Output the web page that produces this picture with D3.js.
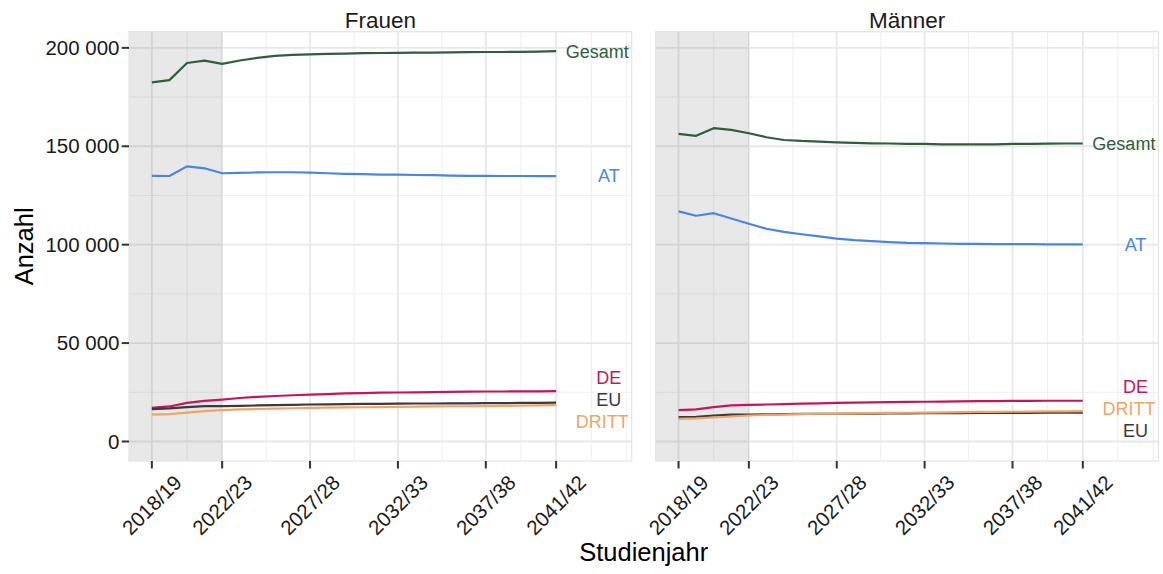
<!DOCTYPE html>
<html>
<head>
<meta charset="utf-8">
<script src="https://cdn.jsdelivr.net/npm/d3@7"></script>
<style>
  body { margin: 0; background: #fff; }
  text { font-family: "Liberation Sans", Arial, Helvetica, sans-serif; }
</style>
</head>
<body>
<div id="chart"></div>
<script>
// years (first year of each Studienjahr)
const years = d3.range(2018, 2042);
const tickYears = [2018, 2022, 2027, 2032, 2037, 2041];
const minorYears = [2020, 2024.5, 2029.5, 2034.5, 2039, 2043, 2045];
const yTicks = [0, 50000, 100000, 150000, 200000];
const yMinor = [25000, 75000, 125000, 175000];
const panels = ["Frauen", "Männer"];
const seriesNames = ["Gesamt", "AT", "DE", "EU", "DRITT"];

// values in thousands
const gesamtF = [182.5, 183.6, 192.3, 193.5, 191.9, 193.6, 194.9, 195.9, 196.4, 196.7, 196.9, 197.1, 197.3, 197.4, 197.5, 197.6, 197.6, 197.7, 197.8, 197.9, 197.9, 198.0, 198.1, 198.3];
const atF = [135.0, 134.9, 139.8, 138.8, 136.3, 136.5, 136.7, 136.8, 136.8, 136.6, 136.3, 136.0, 135.8, 135.6, 135.6, 135.4, 135.3, 135.1, 135.0, 135.0, 134.9, 134.9, 134.8, 134.8];
const deF = [17.1, 17.8, 19.6, 20.6, 21.3, 22.1, 22.7, 23.1, 23.5, 23.8, 24.1, 24.4, 24.6, 24.8, 24.9, 25.0, 25.1, 25.2, 25.3, 25.4, 25.4, 25.5, 25.5, 25.6];
const euF = [16.4, 16.8, 17.5, 18.0, 18.0, 18.1, 18.3, 18.5, 18.6, 18.8, 18.9, 19.0, 19.1, 19.1, 19.2, 19.3, 19.3, 19.4, 19.4, 19.5, 19.5, 19.6, 19.6, 19.7];
const drittF = [13.6, 13.9, 14.7, 15.4, 15.9, 16.3, 16.5, 16.7, 16.9, 17.1, 17.2, 17.3, 17.4, 17.5, 17.6, 17.7, 17.8, 17.9, 17.9, 18.0, 18.1, 18.2, 18.3, 18.5];

const gesamtM = [156.3, 155.3, 159.2, 158.3, 156.6, 154.6, 153.2, 152.7, 152.4, 152.0, 151.7, 151.5, 151.4, 151.2, 151.2, 151.0, 151.0, 151.0, 151.0, 151.2, 151.2, 151.3, 151.4, 151.4];
const atM = [116.9, 114.7, 116.0, 113.3, 110.6, 108.1, 106.5, 105.3, 104.2, 103.1, 102.3, 101.8, 101.3, 100.9, 100.8, 100.6, 100.4, 100.4, 100.3, 100.3, 100.3, 100.2, 100.2, 100.2];
const deM = [15.9, 16.3, 17.5, 18.3, 18.6, 18.8, 19.0, 19.2, 19.4, 19.6, 19.7, 19.9, 20.0, 20.1, 20.2, 20.3, 20.4, 20.5, 20.5, 20.6, 20.6, 20.7, 20.7, 20.7];
const euM = [12.4, 12.5, 13.2, 13.6, 13.7, 13.8, 13.9, 14.0, 14.1, 14.1, 14.2, 14.2, 14.3, 14.3, 14.4, 14.4, 14.4, 14.5, 14.5, 14.5, 14.5, 14.6, 14.6, 14.6];
const drittM = [11.5, 11.7, 12.2, 12.7, 13.2, 13.5, 13.7, 13.9, 14.1, 14.2, 14.3, 14.4, 14.5, 14.6, 14.7, 14.8, 14.9, 15.0, 15.0, 15.1, 15.2, 15.3, 15.3, 15.4];

const colors = {Gesamt: "#2f5e3e", AT: "#4a86e0", DE: "#c2185b", EU: "#3a3a3a", DRITT: "#f2a468"};

const values = {
  Frauen: {Gesamt: gesamtF, AT: atF, DE: deF, EU: euF, DRITT: drittF},
  "Männer": {Gesamt: gesamtM, AT: atM, DE: deM, EU: euM, DRITT: drittM}
};

const width = 1163, height = 574;
const plotTop = 31.7, plotBottom = 461;
const panelX = [[129, 631.7], [655.7, 1158.4]];

const svg = d3.select("#chart").append("svg")
  .attr("width", width).attr("height", height);

// y scale like ggplot: include 0, 5% expansion
const yMax = d3.max(Object.values(values), p => d3.max(Object.values(p), s => d3.max(s))) * 1000;
const pad = yMax * 0.05;
const y = d3.scaleLinear().domain([-pad, yMax + pad]).range([plotBottom, plotTop]);

const line = (x) => d3.line().x((d, i) => x(years[i])).y(d => y(d * 1000));

const fmt = v => d3.format(",")(v).replace(/,/g, " ");
const yearLabel = yr => yr + "/" + String(yr + 1).slice(2);

panels.forEach(function(name, pi) {
  const [x0, x1] = panelX[pi];
  const x = d3.scaleLinear().domain([2018 - 1.3, 2044 + 1.3]).range([x0, x1]);
  const g = svg.append("g");

  // grid
  g.selectAll(".hmin").data(yMinor).enter().append("line")
    .attr("x1", x0).attr("x2", x1).attr("y1", d => y(d)).attr("y2", d => y(d))
    .attr("stroke", "#efefef").attr("stroke-width", 1);
  g.selectAll(".vmin").data(minorYears).enter().append("line")
    .attr("x1", d => x(d)).attr("x2", d => x(d)).attr("y1", plotTop).attr("y2", plotBottom)
    .attr("stroke", "#efefef").attr("stroke-width", 1);
  g.selectAll(".hmaj").data(yTicks).enter().append("line")
    .attr("x1", x0).attr("x2", x1).attr("y1", d => y(d)).attr("y2", d => y(d))
    .attr("stroke", "#e8e8e8").attr("stroke-width", 1.8);
  g.selectAll(".vmaj").data(tickYears).enter().append("line")
    .attr("x1", d => x(d)).attr("x2", d => x(d)).attr("y1", plotTop).attr("y2", plotBottom)
    .attr("stroke", "#e8e8e8").attr("stroke-width", 1.8);

  // shaded past years
  g.append("rect")
    .attr("x", x0).attr("y", plotTop)
    .attr("width", x(2022) - x0).attr("height", plotBottom - plotTop)
    .attr("fill", "#000").attr("fill-opacity", 0.09);

  // border
  g.append("rect")
    .attr("x", x0).attr("y", plotTop).attr("width", x1 - x0).attr("height", plotBottom - plotTop)
    .attr("fill", "none").attr("stroke", "#e4e4e4").attr("stroke-width", 1.2);

  // lines
  seriesNames.forEach(function(s) {
    g.append("path")
      .datum(values[name][s])
      .attr("d", line(x))
      .attr("fill", "none")
      .attr("stroke", colors[s])
      .attr("stroke-width", 2.2)
      .attr("stroke-linejoin", "round");
  });

  // end labels, centred at 2044, kept inside the panel, spread apart when crowded
  let labs = seriesNames.map(s => {
    const v = values[name][s];
    return {name: s, y: y(v[v.length - 1] * 1000)};
  }).sort((a, b) => a.y - b.y);
  const gap = 22;
  let clusters = [];
  labs.forEach(l => {
    const c = clusters[clusters.length - 1];
    if (c && l.y - c[c.length - 1].y < gap) c.push(l); else clusters.push([l]);
  });
  clusters.forEach(c => {
    const m = d3.mean(c, l => l.y);
    c.forEach((l, i) => { l.ly = m + (i - (c.length - 1) / 2) * gap; });
  });
  labs.forEach(l => {
    const t = g.append("text")
      .attr("y", l.ly).attr("dy", "0.35em")
      .attr("font-size", 18)
      .attr("fill", colors[l.name])
      .attr("text-anchor", "middle")
      .text(l.name);
    const w = t.node().getComputedTextLength();
    const cx = Math.min(x(2044), x1 - 3 - w / 2);
    t.attr("x", cx);
  });

  // strip title
  svg.append("text")
    .attr("x", (x0 + x1) / 2).attr("y", 28.3)
    .attr("text-anchor", "middle").attr("font-size", 22.5).attr("fill", "#1a1a1a")
    .text(name);

  // x axis ticks and labels
  g.selectAll(".xt").data(tickYears).enter().append("line")
    .attr("x1", d => x(d)).attr("x2", d => x(d)).attr("y1", plotBottom).attr("y2", plotBottom + 7.5)
    .attr("stroke", "#333").attr("stroke-width", 2);
  g.selectAll(".xl").data(tickYears).enter().append("text")
    .attr("transform", d => `translate(${x(d)},505) rotate(-45)`)
    .attr("text-anchor", "middle").attr("dy", "0.35em")
    .attr("font-size", 20.5).attr("fill", "#1a1a1a")
    .text(yearLabel);

  // y axis only on the first panel
  if (pi === 0) {
    g.selectAll(".yt").data(yTicks).enter().append("line")
      .attr("x1", x0 - 7.3).attr("x2", x0).attr("y1", d => y(d)).attr("y2", d => y(d))
      .attr("stroke", "#333").attr("stroke-width", 2);
    g.selectAll(".yl").data(yTicks).enter().append("text")
      .attr("x", x0 - 9.5).attr("y", d => y(d)).attr("dy", "0.35em")
      .attr("text-anchor", "end").attr("font-size", 20.5).attr("fill", "#1a1a1a")
      .text(fmt);
  }
});

// axis titles
svg.append("text")
  .attr("x", (panelX[0][0] + panelX[1][1]) / 2).attr("y", 561)
  .attr("text-anchor", "middle").attr("font-size", 25.5).attr("fill", "#000")
  .text("Studienjahr");
svg.append("text")
  .attr("transform", `translate(32.7,${(plotTop + plotBottom) / 2}) rotate(-90)`)
  .attr("text-anchor", "middle").attr("font-size", 25.5).attr("fill", "#000")
  .text("Anzahl");
</script>
</body>
</html>
